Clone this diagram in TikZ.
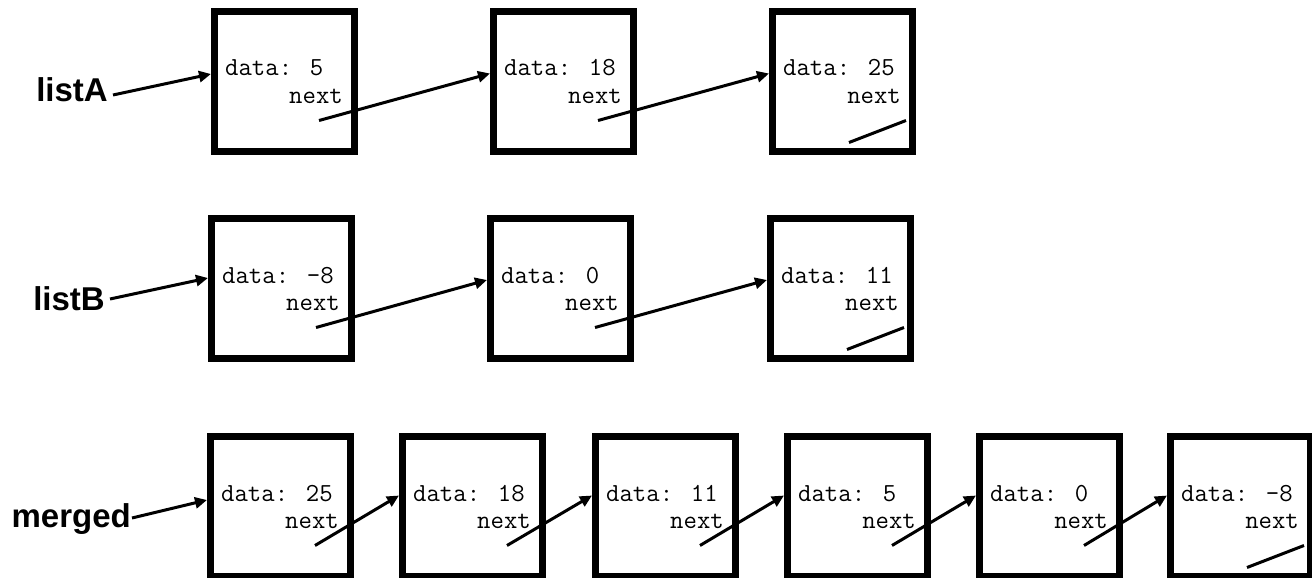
\documentclass[tikz,border=0pt]{standalone}
\usepackage{fontspec}
\newfontfamily\lblfont{Liberation Sans}
\usetikzlibrary{arrows.meta,calc}
\newcommand\llnode[4]{%
  \node[nodebox] (#1) at (#2,#3) {};
  \node[datatxt] (#1d) at ($(#1.center)+(-59.5,-5.5)$) {data: #4};
  \node[nexttxt] (#1n) at ($(#1.center)+(58.5,21.5)$) {next};
}
\newcommand\nextptr[3]{%
  \draw[ptr] ($(#1.center)+(34.5,39)$) -- ($(#2.center)+(-73.5,#3)$);
}
\newcommand\nullptr[1]{%
  \draw[nullline] ($(#1.center)+(6.5,61)$) -- ($(#1.center)+(63.5,39)$);
}
\begin{document}
\begin{tikzpicture}[x=1pt,y=-1pt,
  nodebox/.style={draw,line width=7pt,minimum width=140pt,minimum height=140pt,inner sep=0pt,outer sep=0pt},
  datatxt/.style={font=\ttfamily\fontsize{26}{26}\selectfont,inner sep=0pt,anchor=base west},
  nexttxt/.style={font=\ttfamily\fontsize{26}{26}\selectfont,inner sep=0pt,anchor=base east},
  ptr/.style={line width=3pt,-{Triangle[length=12pt,width=11pt]}},
  nullline/.style={line width=3pt},
  listlbl/.style={font=\lblfont\bfseries\fontsize{33}{33}\selectfont,inner sep=0pt,anchor=base east}]
\useasboundingbox (0,0) rectangle (1312,578);
% list A
\llnode{a1}{284.5}{81.5}{5}
\llnode{a2}{563.5}{81.5}{18}
\llnode{a3}{842.5}{81.5}{25}
% list B
\llnode{b1}{281.5}{288.5}{-8}
\llnode{b2}{560.5}{288.5}{0}
\llnode{b3}{840.5}{288.5}{11}
% merged
\llnode{m1}{280.5}{506.5}{25}
\llnode{m2}{472.5}{506.5}{18}
\llnode{m3}{665.5}{506.5}{11}
\llnode{m4}{857.5}{506.5}{5}
\llnode{m5}{1049.5}{506.5}{0}
\llnode{m6}{1240.5}{506.5}{-8}
% labels
\node[listlbl] (la) at (108,102) {listA};
\node[listlbl] (lb) at (105,310) {listB};
\node[listlbl] (lm) at (131,527) {merged};
\draw[ptr] ($(la.base east)+(5,-7)$) -- ($(a1.center)+(-73.5,-7.5)$);
\draw[ptr] ($(lb.base east)+(5,-11)$) -- ($(b1.center)+(-73.5,-10.5)$);
\draw[ptr] ($(lm.base east)+(1,-9)$) -- ($(m1.center)+(-73.5,-6.5)$);
% next pointers
\nextptr{a1}{a2}{-8}
\nextptr{a2}{a3}{-8}
\nullptr{a3}
\nextptr{b1}{b2}{-8.5}
\nextptr{b2}{b3}{-8.5}
\nullptr{b3}
\nextptr{m1}{m2}{-11}
\nextptr{m2}{m3}{-11}
\nextptr{m3}{m4}{-11}
\nextptr{m4}{m5}{-11}
\nextptr{m5}{m6}{-11}
\nullptr{m6}
\end{tikzpicture}
\end{document}
